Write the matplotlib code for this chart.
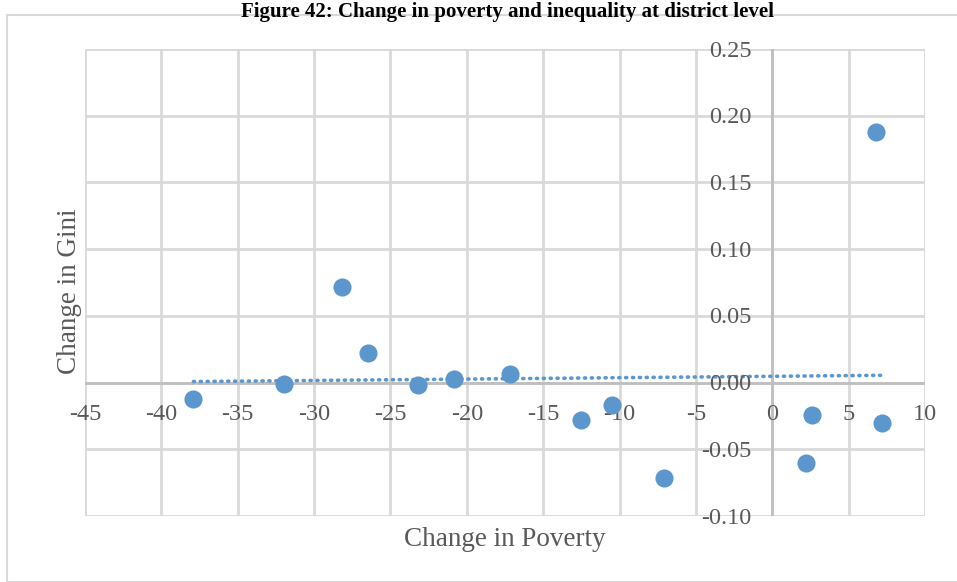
import numpy as np
import matplotlib.pyplot as plt
from matplotlib.patches import Rectangle

# change in poverty (x) vs change in gini (y), one point per district
poverty = [-37.9, -32.0, -28.2, -26.5, -23.2, -20.85, -17.2, -12.5, -10.5, -7.07, 2.2, 2.6, 6.77, 7.2]
gini = [-0.0124, -0.001, 0.072, 0.022, -0.002, 0.003, 0.0064, -0.028, -0.017, -0.0716, -0.060, -0.024, 0.188, -0.030]
xticks = [-45, -40, -35, -30, -25, -20, -15, -10, -5, 0, 5, 10]
yticks = [-0.10, -0.05, 0.00, 0.05, 0.10, 0.15, 0.20, 0.25]

blue = '#5b97cc'
grid_c = '#d9d9d9'
txt_c = '#595959'
serif = 'Liberation Serif'

fig = plt.figure(figsize=(9.57, 5.82), dpi=100)
ax = fig.add_axes([85/957, 1-516/582, 840/957, 467/582])

# outer chart frame
fig.patches.append(Rectangle((7/957, 0), 1.0, 1-15/582, transform=fig.transFigure,
                             fill=False, edgecolor=grid_c, linewidth=1.5))

ax.set_xlim(-45, 10)
ax.set_ylim(-0.10, 0.25)
ax.set_xticks(xticks)
ax.set_yticks(yticks)
ax.grid(True, color=grid_c, linewidth=2)
ax.set_axisbelow(True)
for s in ax.spines.values():
    s.set_visible(False)
ax.axhline(0, color='#bfbfbf', linewidth=2, zorder=1)
ax.axvline(0, color='#bfbfbf', linewidth=2, zorder=1)
ax.tick_params(length=0, labelbottom=False, labelleft=False)

# tick labels sit next to the zero axes
for t in xticks:
    ax.text(t, -0.024, str(t), ha='center', va='center', fontsize=17.5,
            family=serif, color=txt_c)
for t in yticks:
    ax.text(-1.35, t - 0.0015, '%.2f' % t, ha='right', va='center', fontsize=17.5,
            family=serif, color=txt_c)

ax.scatter(poverty, gini, s=170, color=blue, zorder=3, linewidths=0)

# linear trendline
k, c = np.polyfit(poverty, gini, 1)
xs = np.array([min(poverty), max(poverty)])
ax.plot(xs, k*xs + c, color=blue, linewidth=2.6, linestyle=(0, (0.3, 1.6)),
        dash_capstyle='round', zorder=2)

fig.text(69/957, 1-291/582, 'Change in Gini', rotation=90, ha='center', va='center',
         fontsize=19.5, family=serif, color=txt_c)
fig.text(505/957, 1-540/582, 'Change in Poverty', ha='center', va='center',
         fontsize=19.5, family=serif, color=txt_c)
fig.text(508/957, 1-17/582, 'Figure 42: Change in poverty and inequality at district level',
         ha='center', va='baseline', fontsize=15, fontweight='bold', family=serif)

fig.savefig('out.png', dpi=100)
